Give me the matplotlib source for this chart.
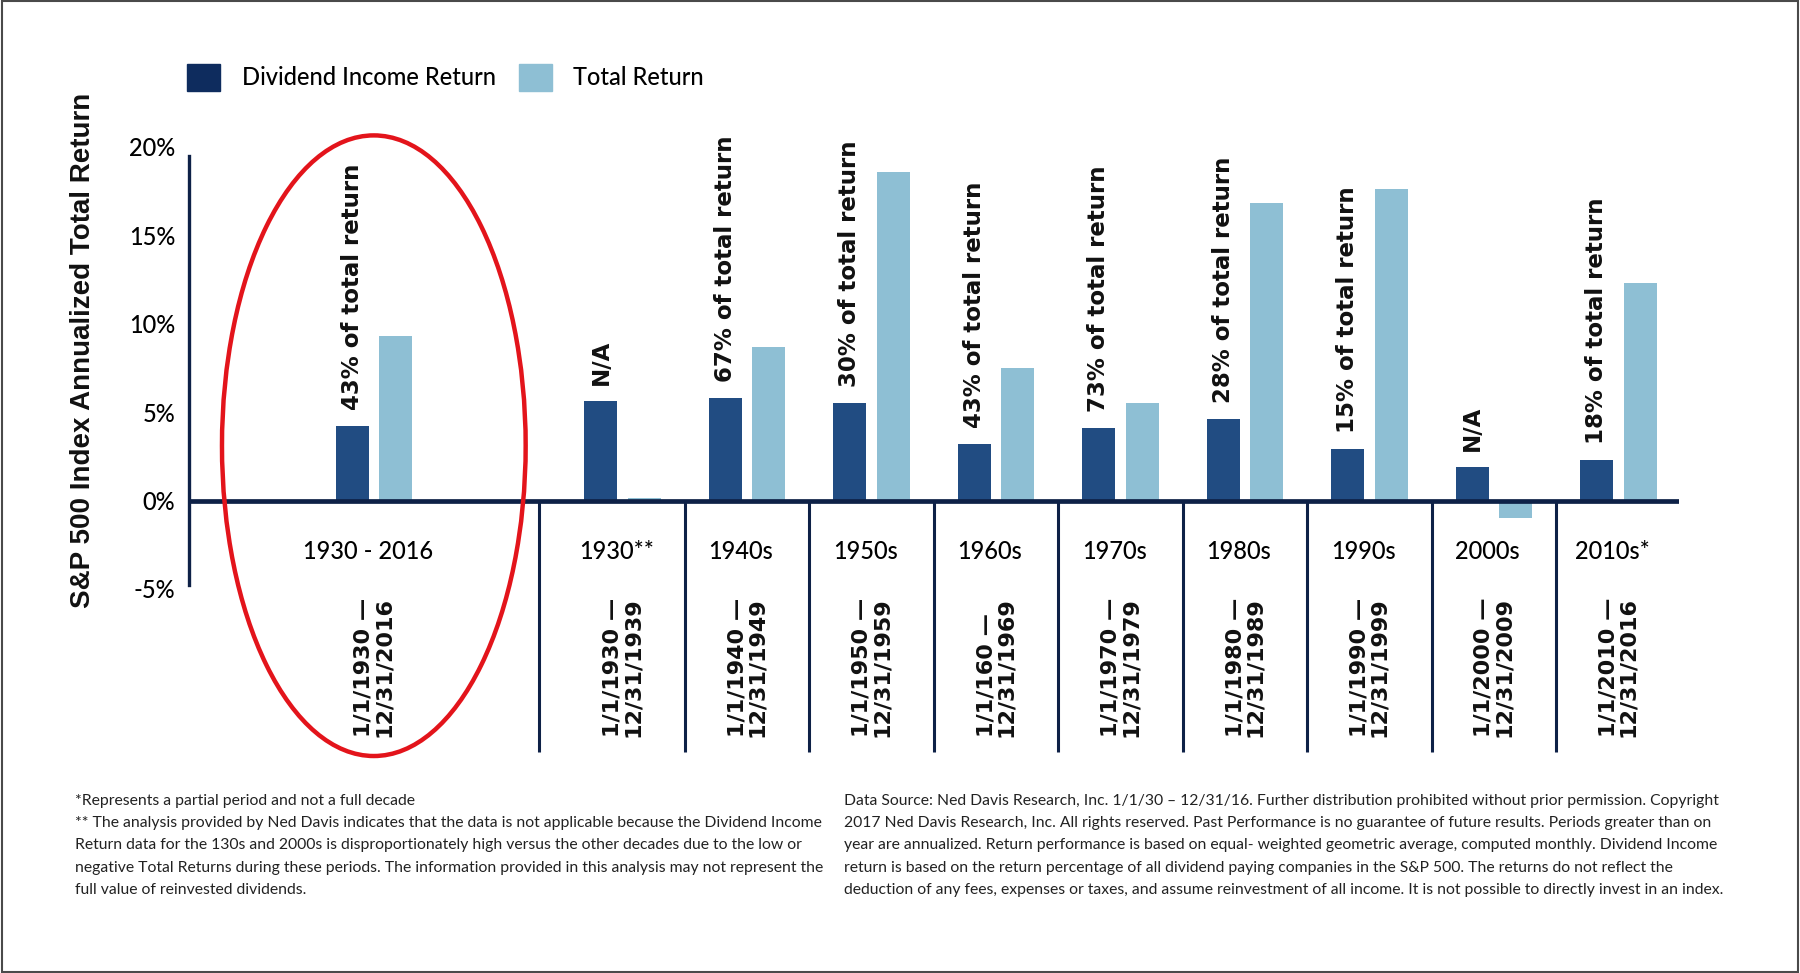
import matplotlib
matplotlib.use("Agg")
import matplotlib.pyplot as plt
from matplotlib.patches import Ellipse, Patch, Rectangle

# values (annualized %, approx.)
periods = ["1930 - 2016", "1930**", "1940s", "1950s", "1960s", "1970s",
           "1980s", "1990s", "2000s", "2010s*"]
date_ranges = ["1/1/1930 \u2014\n12/31/2016", "1/1/1930 \u2014\n12/31/1939",
               "1/1/1940 \u2014\n12/31/1949", "1/1/1950 \u2014\n12/31/1959",
               "1/1/160 \u2014\n12/31/1969", "1/1/1970 \u2014\n12/31/1979",
               "1/1/1980 \u2014\n12/31/1989", "1/1/1990 \u2014\n12/31/1999",
               "1/1/2000 \u2014\n12/31/2009", "1/1/2010 \u2014\n12/31/2016"]
dividend_return = [4.2, 5.65, 5.8, 5.5, 3.2, 4.1, 4.6, 2.9, 1.9, 2.3]
total_return = [9.3, 0.15, 8.7, 18.6, 7.5, 5.5, 16.8, 17.6, -1.0, 12.3]
share_labels = ["43% of total return", "N/A", "67% of total return",
                "30% of total return", "43% of total return", "73% of total return",
                "28% of total return", "15% of total return", "N/A",
                "18% of total return"]
positions = [0, 2, 3, 4, 5, 6, 7, 8, 9, 10]
separators = [1.33, 2.5, 3.5, 4.5, 5.5, 6.5, 7.5, 8.5, 9.5]
yticks = [-5, 0, 5, 10, 15, 20]

DARK = "#214C82"
LIGHT = "#8EBFD4"
NAVY = "#0E2147"
LEG_DARK = "#0E2C5E"

fig = plt.figure(figsize=(18, 9.73), dpi=100)
ax = fig.add_axes([0.105, 0.2221, 0.828, 0.6451])

w = 0.265
xd = [p - 0.175 for p in positions]
xt = [p + 0.175 for p in positions]
ax.bar(xd, dividend_return, width=w, color=DARK, zorder=2)
ax.bar(xt, total_return, width=w, color=LIGHT, zorder=2)

ax.axhline(0, color=NAVY, lw=3.4, zorder=3)
ax.vlines(separators, -14.2, 0, color=NAVY, lw=2.2, zorder=3)

for x, d, lab in zip(xd, dividend_return, share_labels):
    ax.text(x, d + 0.9, lab, rotation=90, ha="center", va="bottom",
            fontsize=16.5, fontweight="bold", family="DejaVu Sans", color="#111111")

for p, per, dr in zip(positions, periods, date_ranges):
    ax.text(p - 0.05, -2.9, per, ha="center", va="center", fontsize=17,
            family="Lato", fontweight="medium", color="#000000")
    ax.text(p, -9.4, dr, rotation=90, ha="center", va="center",
            multialignment="left", fontsize=16, fontweight="bold",
            family="DejaVu Sans", color="#111111", linespacing=1.0)

ax.add_patch(Ellipse((0.0, 3.1), 2.44, 35.1, fill=False, edgecolor="#E3141B",
                     lw=3.2, zorder=4, clip_on=False))

ax.set_xlim(-1.485, 10.49)
ax.set_ylim(-14.5, 21)
ax.set_yticks(yticks)
ax.set_yticklabels([f"{t}%" for t in yticks], fontsize=17, family="Lato",
                   fontweight="medium", color="#000000")
ax.tick_params(axis="y", length=0, pad=10)
ax.set_xticks([])
for s in ["top", "right", "bottom"]:
    ax.spines[s].set_visible(False)
ax.spines["left"].set_color(NAVY)
ax.spines["left"].set_linewidth(2.4)
ax.spines["left"].set_bounds(-4.8, 19.5)

fig.text(0.046, 0.64, "S&P 500 Index Annualized Total Return", rotation=90,
         ha="center", va="center", fontsize=20, fontweight="bold",
         family="Liberation Sans", color="#111111")

handles = [Patch(color=LEG_DARK, label="Dividend Income Return"),
           Patch(color=LIGHT, label="Total Return")]
fig.legend(handles=handles, loc="upper left", bbox_to_anchor=(0.104, 0.934),
           ncol=2, frameon=False, borderpad=0, borderaxespad=0,
           handlelength=1.4, handleheight=1.35, handletextpad=0.9,
           columnspacing=1.0,
           prop={"family": "Lato", "size": 17, "weight": "medium"})

left_note = ("*Represents a partial period and not a full decade\n"
             "** The analysis provided by Ned Davis indicates that the data is not applicable because the Dividend Income\n"
             "Return data for the 130s and 2000s is disproportionately high versus the other decades due to the low or\n"
             "negative Total Returns during these periods. The information provided in this analysis may not represent the\n"
             "full value of reinvested dividends.")
right_note = ("Data Source: Ned Davis Research, Inc. 1/1/30 \u2013 12/31/16. Further distribution prohibited without prior permission. Copyright\n"
              "2017 Ned Davis Research, Inc. All rights reserved. Past Performance is no guarantee of future results. Periods greater than on\n"
              "year are annualized. Return performance is based on equal- weighted geometric average, computed monthly. Dividend Income\n"
              "return is based on the return percentage of all dividend paying companies in the S&P 500. The returns do not reflect the\n"
              "deduction of any fees, expenses or taxes, and assume reinvestment of all income. It is not possible to directly invest in an index.")
fig.text(0.0415, 0.184, left_note, ha="left", va="top", fontsize=11.3,
         family="Lato", color="#222222", linespacing=1.75)
fig.text(0.469, 0.184, right_note, ha="left", va="top", fontsize=11.3,
         family="Lato", color="#222222", linespacing=1.75)

fig.add_artist(Rectangle((0.001, 0.001), 0.998, 0.998, transform=fig.transFigure,
                         fill=False, edgecolor="#4a4a4a", lw=1.5))

fig.savefig("out.png", dpi=100)
